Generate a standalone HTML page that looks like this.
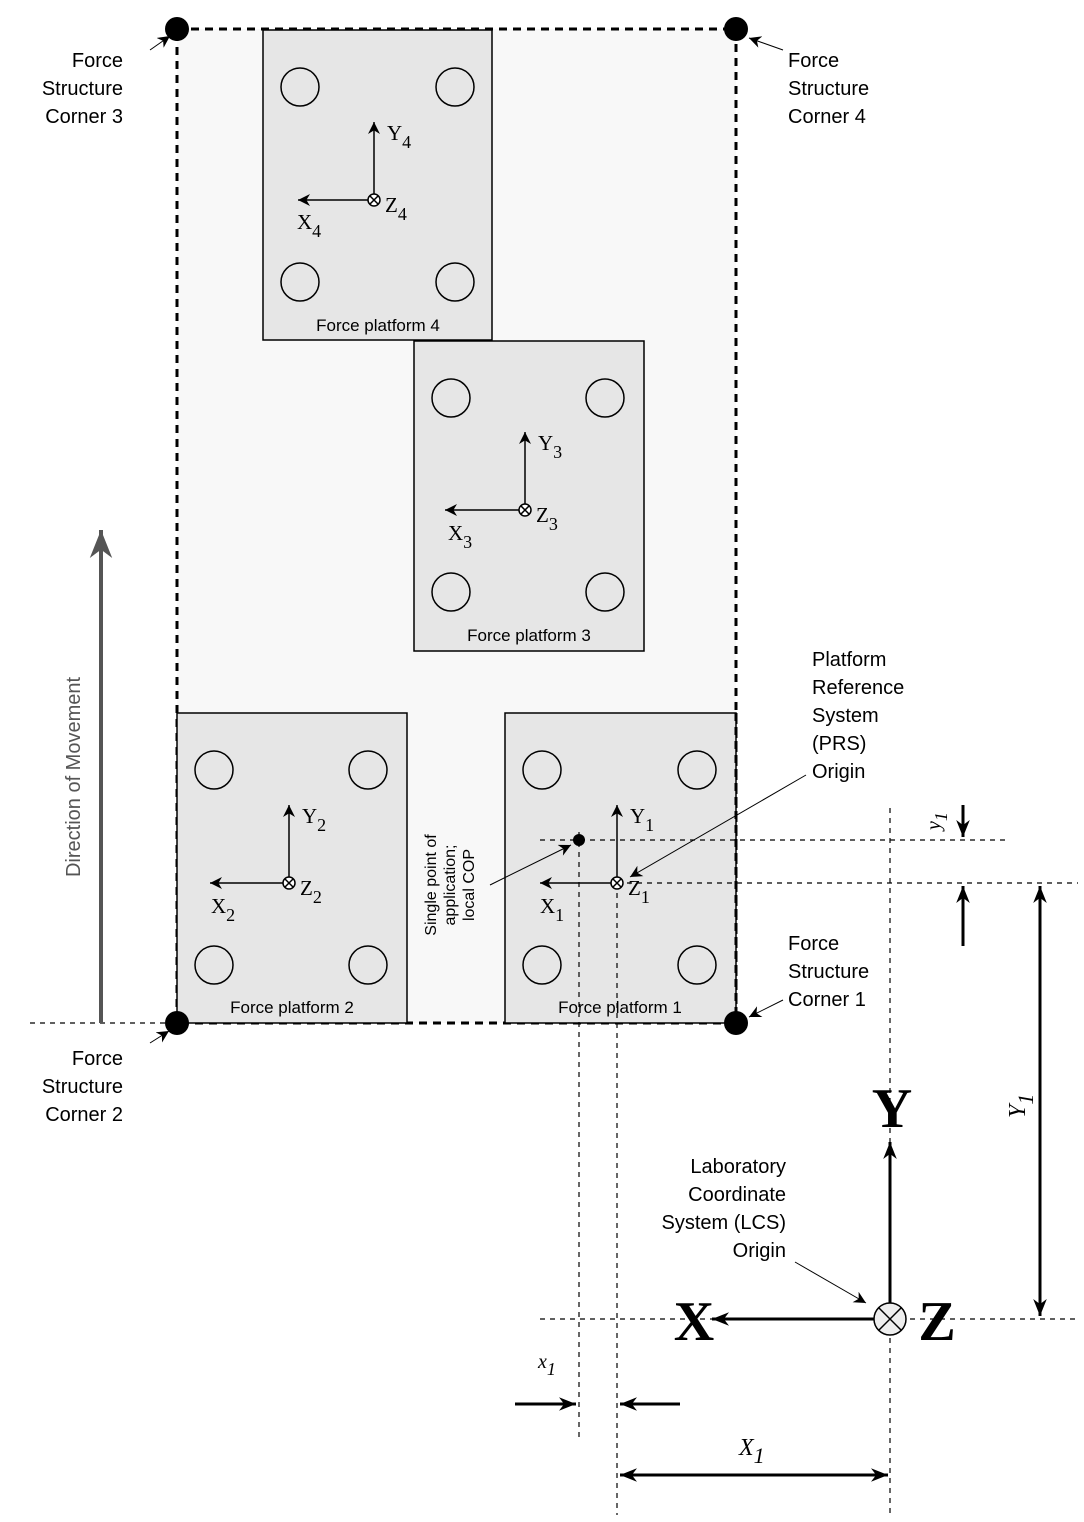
<!DOCTYPE html>
<html><head><meta charset="utf-8"><style>body{margin:0;background:#fff}svg{display:block}</style></head><body>
<svg width="1084" height="1522" viewBox="0 0 1084 1522" xmlns="http://www.w3.org/2000/svg" font-family="Liberation Sans, sans-serif">
<defs>
<marker id="a" viewBox="0 0 10 10" refX="10" refY="5" markerWidth="12" markerHeight="12" orient="auto-start-reverse" markerUnits="userSpaceOnUse"><path d="M0,0 L10,5 L0,10 L3,5 z" fill="#000"/></marker>
<marker id="b" viewBox="0 0 10 10" refX="10" refY="5" markerWidth="17" markerHeight="17" orient="auto-start-reverse" markerUnits="userSpaceOnUse"><path d="M0,1 L10,5 L0,9 L3,5 z" fill="#000"/></marker>
<marker id="g" viewBox="0 0 10 10" refX="10" refY="5" markerWidth="28" markerHeight="28" orient="auto" markerUnits="userSpaceOnUse"><path d="M0,1 L10,5 L0,9 L3,5 z" fill="#555"/></marker>
</defs>
<rect x="177" y="29" width="559" height="994" fill="#f8f8f8" stroke="#000" stroke-width="3" stroke-dasharray="8,6"/>
<g fill="#e6e6e6" stroke="#000" stroke-width="1.5">
<rect x="263" y="30" width="229" height="310"/>
<rect x="414" y="341" width="230" height="310"/>
<rect x="177" y="713" width="230" height="310"/>
<rect x="505" y="713" width="231" height="310"/>
</g>
<line x1="736" y1="713" x2="736" y2="1023" stroke="#000" stroke-width="3" stroke-dasharray="8,6"/>
<g fill="none" stroke="#000" stroke-width="1.5">
<circle cx="300" cy="87" r="19"/><circle cx="455" cy="87" r="19"/><circle cx="300" cy="282" r="19"/><circle cx="455" cy="282" r="19"/>
<circle cx="451" cy="398" r="19"/><circle cx="605" cy="398" r="19"/><circle cx="451" cy="592" r="19"/><circle cx="605" cy="592" r="19"/>
<circle cx="214" cy="770" r="19"/><circle cx="368" cy="770" r="19"/><circle cx="214" cy="965" r="19"/><circle cx="368" cy="965" r="19"/>
<circle cx="542" cy="770" r="19"/><circle cx="697" cy="770" r="19"/><circle cx="542" cy="965" r="19"/><circle cx="697" cy="965" r="19"/>
</g>
<g font-size="17" text-anchor="middle" fill="#000">
<text x="378" y="331">Force platform 4</text>
<text x="529" y="641">Force platform 3</text>
<text x="292" y="1013">Force platform 2</text>
<text x="620" y="1013">Force platform  1</text>
</g>
<g stroke="#000" stroke-width="1.2" fill="none" stroke-dasharray="5,5">
<line x1="540" y1="840" x2="1005" y2="840"/>
<line x1="617" y1="883" x2="1078" y2="883"/>
<line x1="30" y1="1023" x2="177" y2="1023"/>
<line x1="540" y1="1319" x2="1080" y2="1319"/>
<line x1="579" y1="832" x2="579" y2="1440"/>
<line x1="617" y1="883" x2="617" y2="1515"/>
<line x1="890" y1="808" x2="890" y2="1515"/>
</g>
<g stroke="#000" stroke-width="1.5" fill="none">
<line x1="374" y1="194" x2="374" y2="122" marker-end="url(#a)"/><line x1="368" y1="200" x2="298" y2="200" marker-end="url(#a)"/><circle cx="374" cy="200" r="6" fill="#fff"/><path d="M370,196l8,8M378,196l-8,8"/>
<line x1="525" y1="504" x2="525" y2="432" marker-end="url(#a)"/><line x1="519" y1="510" x2="445" y2="510" marker-end="url(#a)"/><circle cx="525" cy="510" r="6" fill="#fff"/><path d="M521,506l8,8M529,506l-8,8"/>
<line x1="289" y1="877" x2="289" y2="805" marker-end="url(#a)"/><line x1="283" y1="883" x2="210" y2="883" marker-end="url(#a)"/><circle cx="289" cy="883" r="6" fill="#fff"/><path d="M285,879l8,8M293,879l-8,8"/>
<line x1="617" y1="877" x2="617" y2="805" marker-end="url(#a)"/><line x1="611" y1="883" x2="540" y2="883" marker-end="url(#a)"/><circle cx="617" cy="883" r="6" fill="#fff"/><path d="M613,879l8,8M621,879l-8,8"/>
</g>
<g font-family="Liberation Serif, serif" font-size="21" fill="#000">
<text x="387" y="140">Y<tspan dy="8" font-size="18">4</tspan></text><text x="385" y="212">Z<tspan dy="8" font-size="18">4</tspan></text><text x="297" y="229">X<tspan dy="8" font-size="18">4</tspan></text>
<text x="538" y="450">Y<tspan dy="8" font-size="18">3</tspan></text><text x="536" y="522">Z<tspan dy="8" font-size="18">3</tspan></text><text x="448" y="540">X<tspan dy="8" font-size="18">3</tspan></text>
<text x="302" y="823">Y<tspan dy="8" font-size="18">2</tspan></text><text x="300" y="895">Z<tspan dy="8" font-size="18">2</tspan></text><text x="211" y="913">X<tspan dy="8" font-size="18">2</tspan></text>
<text x="630" y="823">Y<tspan dy="8" font-size="18">1</tspan></text><text x="628" y="895">Z<tspan dy="8" font-size="18">1</tspan></text><text x="540" y="913">X<tspan dy="8" font-size="18">1</tspan></text>
</g>
<circle cx="579" cy="840" r="6" fill="#000"/>
<g fill="#000"><circle cx="177" cy="29" r="12"/><circle cx="736" cy="29" r="12"/><circle cx="177" cy="1023" r="12"/><circle cx="736" cy="1023" r="12"/></g>
<g stroke="#000" stroke-width="1" fill="none">
<line x1="150" y1="50" x2="170" y2="36" marker-end="url(#a)"/>
<line x1="783" y1="50" x2="749" y2="38" marker-end="url(#a)"/>
<line x1="783" y1="1000" x2="749" y2="1017" marker-end="url(#a)"/>
<line x1="150" y1="1043" x2="169" y2="1031" marker-end="url(#a)"/>
<line x1="806" y1="775" x2="630" y2="877" marker-end="url(#a)"/>
<line x1="490" y1="885" x2="571" y2="845" marker-end="url(#a)"/>
<line x1="795" y1="1262" x2="866" y2="1303" marker-end="url(#a)"/>
</g>
<g font-size="20" fill="#000">
<text x="123" y="67" text-anchor="end">Force</text><text x="123" y="95" text-anchor="end">Structure</text><text x="123" y="123" text-anchor="end">Corner 3</text>
<text x="788" y="67">Force</text><text x="788" y="95">Structure</text><text x="788" y="123">Corner 4</text>
<text x="788" y="950">Force</text><text x="788" y="978">Structure</text><text x="788" y="1006">Corner 1</text>
<text x="123" y="1065" text-anchor="end">Force</text><text x="123" y="1093" text-anchor="end">Structure</text><text x="123" y="1121" text-anchor="end">Corner 2</text>
<text x="812" y="666">Platform</text><text x="812" y="694">Reference</text><text x="812" y="722">System</text><text x="812" y="750">(PRS)</text><text x="812" y="778">Origin</text>
<text x="786" y="1173" text-anchor="end">Laboratory</text><text x="786" y="1201" text-anchor="end">Coordinate</text><text x="786" y="1229" text-anchor="end">System (LCS)</text><text x="786" y="1257" text-anchor="end">Origin</text>
</g>
<g font-size="16" fill="#000" text-anchor="middle" transform="translate(455,885) rotate(-90)">
<text x="0" y="-19">Single point of</text><text x="0" y="0">application;</text><text x="0" y="19">local COP</text>
</g>
<line x1="101" y1="1023" x2="101" y2="530" stroke="#555" stroke-width="4" marker-end="url(#g)"/>
<text transform="translate(80,777) rotate(-90)" font-size="20" fill="#555" text-anchor="middle">Direction of Movement</text>
<g stroke="#000" stroke-width="3" fill="none">
<line x1="890" y1="1303" x2="890" y2="1142" marker-end="url(#b)"/>
<line x1="874" y1="1319" x2="712" y2="1319" marker-end="url(#b)"/>
<line x1="1040" y1="886" x2="1040" y2="1316" marker-start="url(#b)" marker-end="url(#b)"/>
<line x1="963" y1="805" x2="963" y2="837" marker-end="url(#b)"/>
<line x1="963" y1="946" x2="963" y2="886" marker-end="url(#b)"/>
<line x1="515" y1="1404" x2="576" y2="1404" marker-end="url(#b)"/>
<line x1="680" y1="1404" x2="620" y2="1404" marker-end="url(#b)"/>
<line x1="620" y1="1475" x2="888" y2="1475" marker-start="url(#b)" marker-end="url(#b)"/>
</g>
<circle cx="890" cy="1319" r="16" fill="#eee" stroke="#000" stroke-width="1.5"/>
<path d="M879,1308l22,22M901,1308l-22,22" stroke="#000" stroke-width="1.5"/>
<g font-family="Liberation Serif, serif" font-weight="bold" font-size="56" fill="#000" text-anchor="middle">
<text x="892" y="1127">Y</text><text x="694" y="1340">X</text><text x="937" y="1340">Z</text>
</g>
<g font-family="Liberation Serif, serif" font-style="italic" fill="#000" font-size="24">
<text x="739" y="1455">X<tspan dy="8" font-size="22">1</tspan></text>
<text x="538" y="1368" font-size="20">x<tspan dy="7" font-size="18">1</tspan></text>
<text transform="translate(1025,1118) rotate(-90)">Y<tspan dy="8" font-size="22">1</tspan></text>
<text transform="translate(940,830) rotate(-90)" font-size="20">y<tspan dy="7" font-size="18">1</tspan></text>
</g>
</svg>
</body></html>
